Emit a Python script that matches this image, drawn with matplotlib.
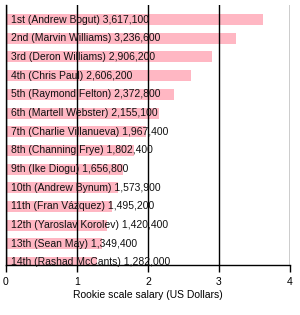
import matplotlib
matplotlib.use("Agg")
import matplotlib.pyplot as plt

picks = ["1st", "2nd", "3rd", "4th", "5th", "6th", "7th", "8th", "9th", "10th",
         "11th", "12th", "13th", "14th"]
players = ["Andrew Bogut", "Marvin Williams", "Deron Williams", "Chris Paul",
           "Raymond Felton", "Martell Webster", "Charlie Villanueva", "Channing Frye",
           "Ike Diogu", "Andrew Bynum", "Fran Vázquez", "Yaroslav Korolev",
           "Sean May", "Rashad McCants"]
salaries = [3617100, 3236600, 2906200, 2606200, 2372800, 2155100, 1967400,
            1802400, 1656800, 1573900, 1495200, 1420400, 1349400, 1282000]
xticks = [0, 1, 2, 3, 4]

plt.rcParams['font.family'] = ['Liberation Sans', 'DejaVu Sans']

fig = plt.figure(figsize=(3.0, 3.15), dpi=100)
ax = fig.add_axes([0.019, 0.159, 0.948, 0.825])

vals = [s / 1e6 for s in salaries]
ypos = list(range(len(vals)))
ax.barh(ypos, vals, height=0.59, color='#FFB7C3', zorder=1)
for y, p, n, s in zip(ypos, picks, players, salaries):
    ax.text(0.07, y, f"{p} ({n}) {s:,}", va='center', ha='left',
            fontsize=7.5, color='#111111', zorder=3)

ax.set_xlim(0, 4)
ax.set_ylim(13.13, -0.78)
ax.set_xticks(xticks)
ax.set_yticks([])
ax.xaxis.grid(True, color='black', linewidth=1.0, zorder=2)
ax.set_axisbelow(False)
for sp in ['top', 'right']:
    ax.spines[sp].set_visible(False)
ax.spines['left'].set_linewidth(1.0)
ax.spines['bottom'].set_linewidth(1.0)
ax.tick_params(axis='x', length=5, width=1.0, labelsize=7.5, pad=4)
ax.set_xlabel("Rookie scale salary (US Dollars)", fontsize=7.5, labelpad=2)

fig.savefig("out.png", dpi=100)
